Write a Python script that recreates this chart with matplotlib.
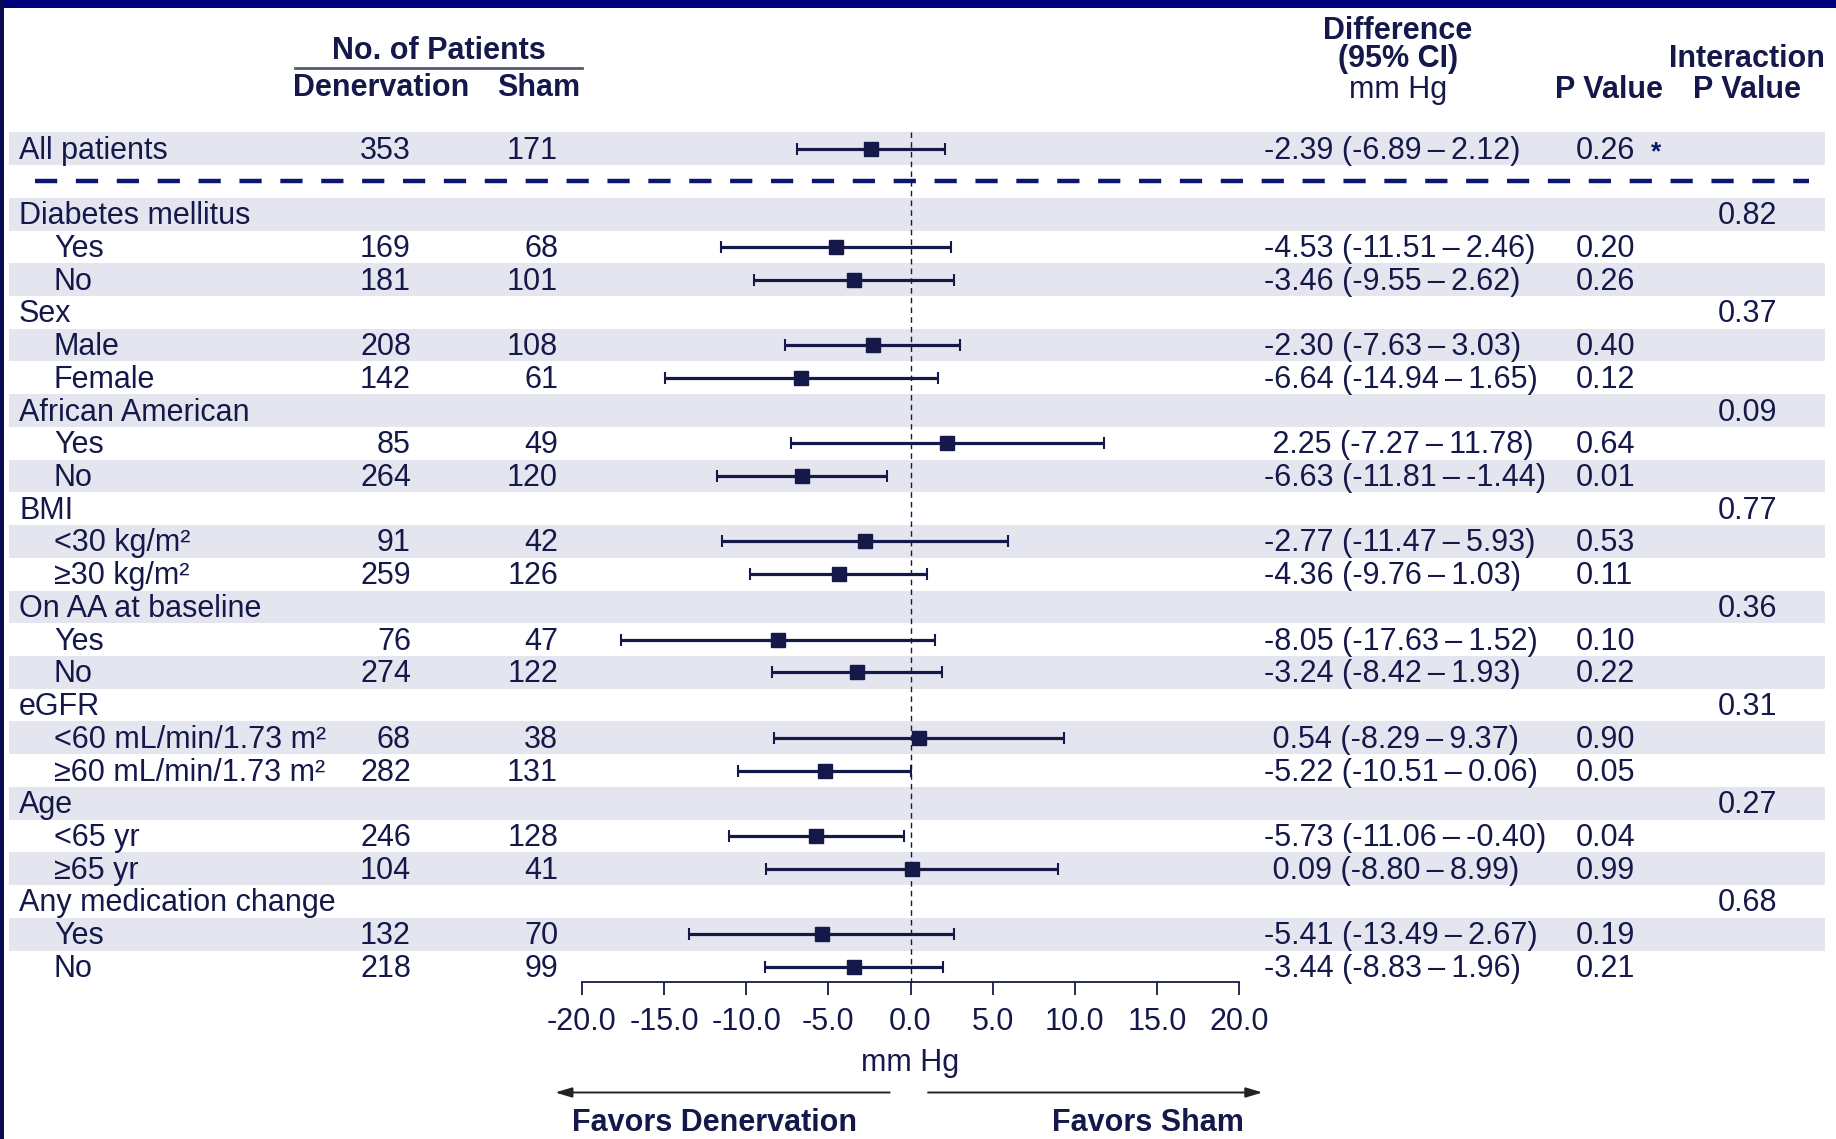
import matplotlib
matplotlib.use('Agg')
import matplotlib.pyplot as plt
import matplotlib.transforms as mtransforms
from matplotlib.patches import Rectangle

plt.rcParams['font.family'] = ['Liberation Sans', 'DejaVu Sans']

# ---- data ----
labels = ["All patients",
          "Diabetes mellitus", "Yes", "No",
          "Sex", "Male", "Female",
          "African American", "Yes", "No",
          "BMI", "<30 kg/m\u00b2", "\u226530 kg/m\u00b2",
          "On AA at baseline", "Yes", "No",
          "eGFR", "<60 mL/min/1.73 m\u00b2", "\u226560 mL/min/1.73 m\u00b2",
          "Age", "<65 yr", "\u226565 yr",
          "Any medication change", "Yes", "No"]
is_sub = [False,
          False, True, True,
          False, True, True,
          False, True, True,
          False, True, True,
          False, True, True,
          False, True, True,
          False, True, True,
          False, True, True]
n_denerv = [353, None, 169, 181, None, 208, 142, None, 85, 264, None, 91, 259,
            None, 76, 274, None, 68, 282, None, 246, 104, None, 132, 218]
n_sham = [171, None, 68, 101, None, 108, 61, None, 49, 120, None, 42, 126,
          None, 47, 122, None, 38, 131, None, 128, 41, None, 70, 99]
diff = [-2.39, None, -4.53, -3.46, None, -2.30, -6.64, None, 2.25, -6.63, None, -2.77, -4.36,
        None, -8.05, -3.24, None, 0.54, -5.22, None, -5.73, 0.09, None, -5.41, -3.44]
ci_lo = [-6.89, None, -11.51, -9.55, None, -7.63, -14.94, None, -7.27, -11.81, None, -11.47, -9.76,
         None, -17.63, -8.42, None, -8.29, -10.51, None, -11.06, -8.80, None, -13.49, -8.83]
ci_hi = [2.12, None, 2.46, 2.62, None, 3.03, 1.65, None, 11.78, -1.44, None, 5.93, 1.03,
         None, 1.52, 1.93, None, 9.37, 0.06, None, -0.40, 8.99, None, 2.67, 1.96]
p_value = ["0.26", None, "0.20", "0.26", None, "0.40", "0.12", None, "0.64", "0.01", None, "0.53", "0.11",
           None, "0.10", "0.22", None, "0.90", "0.05", None, "0.04", "0.99", None, "0.19", "0.21"]
p_interact = [None, "0.82", None, None, "0.37", None, None, "0.09", None, None, "0.77", None, None,
              "0.36", None, None, "0.31", None, None, "0.27", None, None, "0.68", None, None]
xticks = [-20, -15, -10, -5, 0, 5, 10, 15, 20]

NAVY = '#14194a'
BAND = '#e4e5ee'
W, H = 1836, 1139

fig = plt.figure(figsize=(W / 100, H / 100), dpi=100)
ax = fig.add_axes([0, 0, 1, 1])

# map pixels: -20 -> 582 px, 20 -> 1239 px ; row 0 -> 148.7 px, row step 32.73 px
ppu = (1239 - 582) / 40.0
x0 = -20 - 582 / ppu
ax.set_xlim(x0, x0 + W / ppu)
row_px = 32.73
y_top = -148.7 / row_px
ax.set_ylim(y_top + H / row_px, y_top)

for s in ['top', 'left', 'right']:
    ax.spines[s].set_visible(False)
ax.set_yticks([])

# row positions: "All patients" at 0, subgroups from 2
ypos = [0] + list(range(2, 2 + len(labels) - 1))

tr = mtransforms.blended_transform_factory(fig.transFigure, ax.transData)
fx = lambda px: px / W

# shaded bands
band_rows = [0] + [ypos[i] for i in range(1, len(labels)) if (i - 1) % 2 == 0]
for y in band_rows:
    ax.add_patch(Rectangle((fx(9), y - 0.5), fx(1825) - fx(9), 1.0, transform=tr,
                           facecolor=BAND, edgecolor='none', zorder=0))

# dashed separator
ax.plot([fx(35), fx(1809)], [1.0, 1.0], transform=tr, color='#0c1670', lw=3.2,
        dashes=(5, 4.2), zorder=2)

# zero reference line
axis_y = (982 - 148.7) / row_px
ax.plot([0, 0], [-0.5, axis_y], color=NAVY, lw=1, ls=(0, (4, 3)), zorder=2)

# forest marks
fs = 22
ty = 0.06   # small downward text offset
for i, y in enumerate(ypos):
    if diff[i] is not None:
        ax.errorbar(diff[i], y, xerr=[[diff[i] - ci_lo[i]], [ci_hi[i] - diff[i]]],
                    fmt='s', color=NAVY, ms=9.5, lw=2.3, capsize=4, capthick=1.5, zorder=3)
    lx = 54 if is_sub[i] else 19
    yt = y + ty
    ax.text(fx(lx), yt, labels[i], transform=tr, ha='left', va='center', fontsize=fs, color=NAVY)
    if n_denerv[i] is not None:
        ax.text(fx(411), yt, str(n_denerv[i]), transform=tr, ha='right', va='center', fontsize=fs, color=NAVY)
        ax.text(fx(558), yt, str(n_sham[i]), transform=tr, ha='right', va='center', fontsize=fs, color=NAVY)
    if diff[i] is not None:
        lead = '' if diff[i] < 0 else ' '
        txt = "%s%.2f (%.2f\u2009\u2013\u2009%.2f)" % (lead, diff[i], ci_lo[i], ci_hi[i])
        ax.text(fx(1264), yt, txt, transform=tr, ha='left', va='center', fontsize=fs, color=NAVY)
    if p_value[i] is not None:
        ax.text(fx(1576), yt, p_value[i], transform=tr, ha='left', va='center', fontsize=fs, color=NAVY)
    if p_interact[i] is not None:
        ax.text(fx(1718), yt, p_interact[i], transform=tr, ha='left', va='center', fontsize=fs, color=NAVY)

ax.text(fx(1656), 0.1, '*', transform=tr, ha='center', va='center', fontsize=19,
        color='#0c1670', fontweight='bold')

# headers
hb = dict(transform=tr, ha='center', va='center', fontsize=fs, color=NAVY, fontweight='bold')
ax.text(fx(439), -2.97, "No. of Patients", **hb)
ax.plot([fx(295), fx(582)], [-2.47, -2.47], transform=tr, color='#555a70', lw=2)
ax.text(fx(381), -1.84, "Denervation", **hb)
ax.text(fx(539), -1.84, "Sham", **hb)
ax.text(fx(1398), -3.61, "Difference", **hb)
ax.text(fx(1398), -2.73, "(95% CI)", **hb)
ax.text(fx(1398), -1.8, "mm Hg", transform=tr, ha='center', va='center', fontsize=fs, color=NAVY)
ax.text(fx(1609), -1.8, "P Value", **hb)
ax.text(fx(1747), -2.73, "Interaction", **hb)
ax.text(fx(1747), -1.8, "P Value", **hb)

# x axis
ax.spines['bottom'].set_position(('data', axis_y))
ax.spines['bottom'].set_bounds(-20, 20)
ax.spines['bottom'].set_color(NAVY)
ax.spines['bottom'].set_linewidth(1.3)
ax.set_xticks(xticks)
ax.set_xticklabels(["%.1f" % t for t in xticks])
ax.tick_params(axis='x', direction='out', length=9, width=1.3, color=NAVY,
               labelsize=fs, labelcolor=NAVY, pad=9)
ax.text(0, (1063 - 148.7) / row_px, "mm Hg", ha='center', va='center', fontsize=fs, color=NAVY)

arrow_y = (1092.5 - 148.7) / row_px
ax.annotate('', xy=(-21.8, arrow_y), xytext=(-1.1, arrow_y),
            arrowprops=dict(arrowstyle='-|>,head_length=1.0,head_width=0.3', color='#222222', lw=1.4))
ax.annotate('', xy=(21.6, arrow_y), xytext=(0.9, arrow_y),
            arrowprops=dict(arrowstyle='-|>,head_length=1.0,head_width=0.3', color='#222222', lw=1.4))
fav_y = (1123 - 148.7) / row_px
ax.text(fx(715), fav_y, "Favors Denervation", transform=tr, ha='center', va='center',
        fontsize=fs, color=NAVY, fontweight='bold')
ax.text(fx(1148), fav_y, "Favors Sham", transform=tr, ha='center', va='center',
        fontsize=fs, color=NAVY, fontweight='bold')

# navy frame edges
fig.patches.append(Rectangle((0, 1 - 8 / H), 1, 8 / H, transform=fig.transFigure,
                             facecolor='#00007c', edgecolor='none', zorder=10))
fig.patches.append(Rectangle((0, 0), 4 / W, 1, transform=fig.transFigure,
                             facecolor='#0a0a50', edgecolor='none', zorder=10))

fig.savefig('out.png', dpi=100)
